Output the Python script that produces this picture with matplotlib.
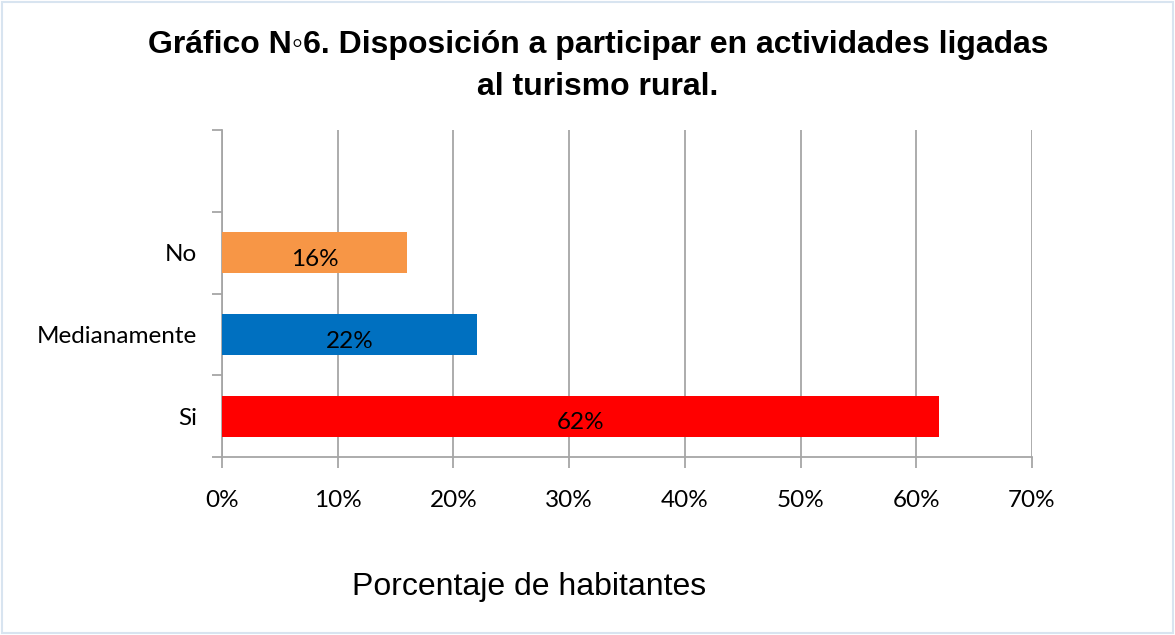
import matplotlib
matplotlib.use("Agg")
import matplotlib.pyplot as plt
from matplotlib.patches import Rectangle

categories = ["Si", "Medianamente", "No", ""]
values = [62, 22, 16]
colors = ["#FF0000", "#0070C0", "#F79646"]
value_labels = ["62%", "22%", "16%"]
xticks = [0, 10, 20, 30, 40, 50, 60, 70]
xtick_labels = ["0%", "10%", "20%", "30%", "40%", "50%", "60%", "70%"]
title_lines = ["Gráfico N◦6. Disposición a participar en actividades ligadas",
               "al turismo rural."]
xlabel = "Porcentaje de habitantes"

W, H = 1175, 635
fig = plt.figure(figsize=(W / 100, H / 100), dpi=100)
fig.patch.set_facecolor("white")

# figure border
fig.add_artist(Rectangle((1.5 / W, 2.5 / H), (W - 3.5) / W, (H - 4.5) / H,
                         transform=fig.transFigure, fill=False,
                         edgecolor="#d8e4f0", linewidth=1.5))

left, right, bottom, top = 222 / W, 1032 / W, 1 - 457 / H, 1 - 130 / H
ax = fig.add_axes([left, bottom, right - left, top - bottom])

ypos = list(range(len(values)))
ax.barh(ypos, values, height=0.5, color=colors, zorder=3)

ax.set_xlim(0, 70)
ax.set_ylim(-0.5, len(categories) - 0.5)

grid_c = "#a6a6a6"
ax.set_xticks(xticks)
ax.set_xticklabels(xtick_labels)
ax.xaxis.grid(True, color=grid_c, linewidth=1.3, zorder=0)
ax.set_axisbelow(True)

# y: boundary ticks as marks, category labels as minor ticks
bounds = [i - 0.5 for i in range(len(categories) + 1)]
ax.set_yticks(bounds)
ax.set_yticklabels([])
ax.set_yticks(list(range(len(categories))), minor=True)
ax.set_yticklabels(categories, minor=True)
ax.tick_params(axis="y", which="major", length=7, width=1.3, color=grid_c, direction="out")
ax.tick_params(axis="y", which="minor", length=0, pad=18)
ax.tick_params(axis="x", which="major", length=8, width=1.3, color=grid_c, direction="out", pad=16)

FS = 17.5
lbl_font = dict(family=["Lato", "DejaVu Sans"], size=FS, color="black")
for t in ax.get_xticklabels() + ax.get_yticklabels(minor=True):
    t.set_fontfamily(["Lato", "DejaVu Sans"])
    t.set_fontsize(FS)
    t.set_color("black")

for s in ["top", "right"]:
    ax.spines[s].set_visible(False)
for s in ["left", "bottom"]:
    ax.spines[s].set_color(grid_c)
    ax.spines[s].set_linewidth(1.3)

for i, (v, lab) in enumerate(zip(values, value_labels)):
    ax.annotate(lab, xy=(v / 2, i), xytext=(0, -9.5), textcoords="offset points",
                ha="center", va="baseline", zorder=4, **lbl_font)

title_font = dict(family=["Liberation Sans", "DejaVu Sans"], size=23, weight="bold", color="black")
fig.text(598 / W, 1 - 53 / H, title_lines[0], ha="center", va="baseline", **title_font)
fig.text(598 / W, 1 - 95 / H, title_lines[1], ha="center", va="baseline", **title_font)

fig.text(529 / W, 1 - 595 / H, xlabel, ha="center", va="baseline",
         family=["Liberation Sans", "DejaVu Sans"], size=23, color="black")

fig.savefig("out.png", dpi=100, facecolor="white")
